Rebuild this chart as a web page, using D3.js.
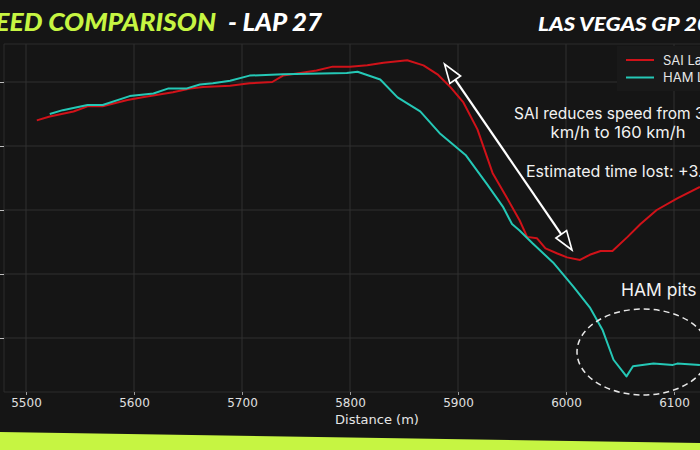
<!DOCTYPE html>
<html><head><meta charset="utf-8">
<script src="https://cdn.jsdelivr.net/npm/d3@7"></script>
<style>html,body{margin:0;padding:0;background:#151515;overflow:hidden}</style>
</head><body>
<svg id="c" width="700" height="450"></svg>
<script>
// ---- data ----
const saiDist = [5510,5522,5544,5557,5571,5594,5608,5636,5652,5664,5689,5707,5728,5738,5754,5769,5784,5800,5816,5831,5853,5868,5881,5893,5905,5918,5932,5945,5957,5964,5973,5981,5992,6001,6013,6022,6032,6043,6057,6069,6084,6103,6124];
const saiSpeed = [270,273,277,281,281,286,288,292,295,296,297,299,300,305,307,309,312,312,313,315,317,313,306,296,284,263,229,210,192,179,178,170,166,163,161,165,168,168,179,189,200,209,218];
const hamDist = [5522,5534,5557,5571,5596,5618,5632,5649,5661,5673,5689,5707,5738,5797,5807,5828,5844,5865,5883,5907,5927,5942,5950,5957,5969,5988,6007,6022,6034,6044,6056,6062,6081,6099,6103,6124];
const hamSpeed = [275,278,282,282,289,291,295,295,298,299,301,305,306,307,308,302,288,277,260,243,220,202,189,184,174,159,140,124,106,83,70,78,80,79,80,79];
const xTicks = [5500,5600,5700,5800,5900,6000,6100];
const yTicks = [100,150,200,250,300];
const seriesNames = ["SAI Lap 27","HAM Lap 27"];
const seriesColors = ["#d01219","#25c8b6"];

const svg = d3.select("#c");
const W = 700, H = 450;
const lime = "#c6f542";
const bg = "#151515";
svg.append("rect").attr("width",W).attr("height",H).attr("fill",bg);

const plot = {l:4, t:44, b:392, r:760};
const x = d3.scaleLinear().domain([5500,6100]).range([26,674]);
const y = d3.scaleLinear().domain([100,300]).range([338,82]);

svg.append("defs").append("clipPath").attr("id","pc")
  .append("rect").attr("x",plot.l).attr("y",plot.t).attr("width",plot.r-plot.l).attr("height",plot.b-plot.t);

// grid
const g = svg.append("g");
g.selectAll(".hg").data(yTicks).join("line")
  .attr("x1",plot.l).attr("x2",plot.r).attr("y1",d=>y(d)).attr("y2",d=>y(d))
  .attr("stroke","#303030").attr("stroke-width",1);
g.selectAll(".vg").data(xTicks).join("line")
  .attr("y1",plot.t).attr("y2",plot.b).attr("x1",d=>x(d)).attr("x2",d=>x(d))
  .attr("stroke","#303030").attr("stroke-width",1);

// frame
svg.append("path").attr("d",`M${plot.r},${plot.t}H${plot.l}V${plot.b}H${plot.r}`)
  .attr("fill","none").attr("stroke","#2c2c2c").attr("stroke-width",1);

// axes
const xa = svg.append("g").attr("transform",`translate(0,${plot.b})`)
  .call(d3.axisBottom(x).tickValues(xTicks).tickFormat(d3.format("d")).tickSize(3).tickPadding(3));
xa.select(".domain").remove();
xa.selectAll("line").attr("stroke","#9a9a9a");
xa.selectAll("text").attr("fill","#e0e0e0").attr("font-family","DejaVu Sans").attr("font-size",12);

const ya = svg.append("g").attr("transform",`translate(${plot.l},0)`)
  .call(d3.axisLeft(y).tickValues(yTicks).tickFormat("").tickSize(4));
ya.select(".domain").remove();
ya.selectAll("line").attr("stroke","#bdbdbd");

svg.append("text").attr("x",377).attr("y",424).attr("text-anchor","middle")
  .attr("fill","#e6e6e6").attr("font-family","DejaVu Sans").attr("font-size",13).text("Distance (m)");

// lines
const line = d3.line().x(d=>x(d[0])).y(d=>y(d[1]));
const lg = svg.append("g").attr("clip-path","url(#pc)");
lg.append("path").datum(d3.zip(saiDist,saiSpeed)).attr("d",line)
  .attr("fill","none").attr("stroke",seriesColors[0]).attr("stroke-width",2).attr("stroke-linejoin","round");
lg.append("path").datum(d3.zip(hamDist,hamSpeed)).attr("d",line)
  .attr("fill","none").attr("stroke",seriesColors[1]).attr("stroke-width",2).attr("stroke-linejoin","round");

// pit ellipse
svg.append("ellipse").attr("cx",643).attr("cy",352).attr("rx",66).attr("ry",43)
  .attr("fill","none").attr("stroke","#e8e8e8").attr("stroke-width",1.5).attr("stroke-dasharray","6,4");

// double arrow
const A = [444.5,64], B = [572,250];
const dx = B[0]-A[0], dy = B[1]-A[1], L = Math.hypot(dx,dy), ux = dx/L, uy = dy/L, px = -uy, py = ux;
const hl = 19, hw = 6.5;
svg.append("line").attr("x1",A[0]+ux*hl).attr("y1",A[1]+uy*hl).attr("x2",B[0]-ux*hl).attr("y2",B[1]-uy*hl)
  .attr("stroke","#ffffff").attr("stroke-width",2.2);
function head(tip, s){
  const bx = tip[0]+s*ux*hl, by = tip[1]+s*uy*hl;
  return `M${tip[0]},${tip[1]}L${bx+px*hw},${by+py*hw}L${bx-px*hw},${by-py*hw}Z`;
}
svg.append("path").attr("d",head(A,1)).attr("fill",bg).attr("stroke","#fff").attr("stroke-width",1.6).attr("stroke-linejoin","miter");
svg.append("path").attr("d",head(B,-1)).attr("fill",bg).attr("stroke","#fff").attr("stroke-width",1.6).attr("stroke-linejoin","miter");

// annotations
const af = "Inter, 'Noto Sans', sans-serif";
svg.append("text").attr("x",514).attr("y",119).attr("fill","#f2f2f2").attr("font-family",af).attr("font-size",15.5)
  .text("SAI reduces speed from 317");
svg.append("text").attr("x",618).attr("y",138).attr("text-anchor","middle").attr("fill","#f2f2f2").attr("font-family",af).attr("font-size",16.5)
  .text("km/h to 160 km/h");
svg.append("text").attr("x",526).attr("y",177).attr("fill","#f2f2f2").attr("font-family",af).attr("font-size",16)
  .text("Estimated time lost: +3.2s");
svg.append("text").attr("x",621).attr("y",296).attr("fill","#f2f2f2").attr("font-family",af).attr("font-size",17.5)
  .text("HAM pits");

// legend
svg.append("rect").attr("x",617).attr("y",46).attr("width",100).attr("height",45).attr("fill","#191919");
seriesNames.forEach((n,i)=>{
  const yy = 60 + i*17.5;
  svg.append("line").attr("x1",626).attr("x2",654).attr("y1",yy).attr("y2",yy).attr("stroke",seriesColors[i]).attr("stroke-width",2);
  svg.append("text").attr("x",663).attr("y",yy+4.5).attr("fill","#e6e6e6").attr("font-family",af).attr("font-size",13).text(n);
});

// titles
const tf = "Lato, Inter, sans-serif";
svg.append("text").attr("x",-34).attr("y",31).attr("fill",lime).attr("font-family",tf)
  .attr("font-weight",900).attr("font-style","italic").attr("font-size",24)
  .attr("textLength",250).attr("lengthAdjust","spacingAndGlyphs").text("SPEED COMPARISON");
svg.append("text").attr("x",228).attr("y",31).attr("fill","#ffffff").attr("font-family",tf)
  .attr("font-weight",900).attr("font-style","italic").attr("font-size",24)
  .attr("textLength",94).attr("lengthAdjust","spacingAndGlyphs").text("- LAP 27");
svg.append("text").attr("x",538).attr("y",31).attr("fill","#ffffff").attr("font-family",tf)
  .attr("font-weight",900).attr("font-style","italic").attr("font-size",19.5)
  .attr("textLength",198).attr("lengthAdjust","spacingAndGlyphs").text("LAS VEGAS GP 2023");

// bottom band
svg.append("path").attr("d","M0,432L700,443L700,450L0,450Z").attr("fill",lime);
</script>
</body></html>
